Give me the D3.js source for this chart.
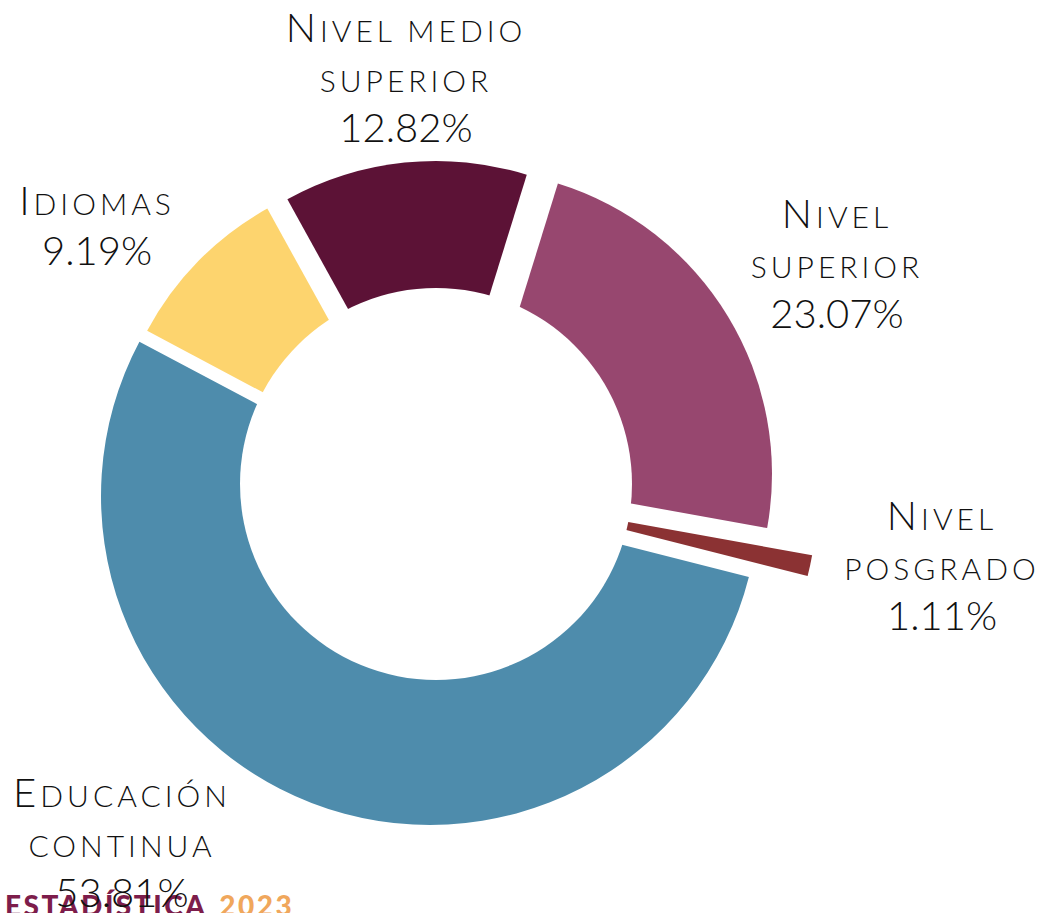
<!DOCTYPE html>
<html>
<head>
<meta charset="utf-8">
<script src="https://cdn.jsdelivr.net/npm/d3@7"></script>
<style>
  html, body { margin: 0; padding: 0; background: #fff; }
  svg { display: block; }
</style>
</head>
<body>
<svg width="1054" height="913"></svg>
<script>
// data, clockwise from the top
var categories = ["Nivel superior", "Nivel posgrado", "Educación continua", "Idiomas", "Nivel medio superior"];
var values = [23.07, 1.11, 53.81, 9.19, 12.82];
var labelLines = [["Nivel", "superior"], ["Nivel", "posgrado"], ["Educación", "continua"], ["Idiomas"], ["Nivel medio", "superior"]];
var colors = ["#97476f", "#8b3233", "#4e8cac", "#fdd46e", "#5c1236"];

var svg = d3.select("svg"),
    width = +svg.attr("width"),
    height = +svg.attr("height");

// hole centre / radius and how each slice is pulled out
var cx = 436, cy = 484, holeR = 196;
var sliceLayout = {
  "Nivel superior":       { dx: 32,  dy: -10, r: 304 },
  "Nivel posgrado":       { dx: 76,  dy: 17,  r: 305 },
  "Educación continua":   { dx: -6,  dy: 12,  r: 329 },
  "Idiomas":              { dx: -23, dy: -12, r: 301 },
  "Nivel medio superior": { dx: 0,   dy: -16, r: 307 }
};
var labelLayout = {
  "Nivel superior":       [837, 228],
  "Nivel posgrado":       [942, 530],
  "Educación continua":   [122, 807],
  "Idiomas":              [97, 215],
  "Nivel medio superior": [406, 42]
};

var color = d3.scaleOrdinal().domain(categories).range(colors);

var start = 17.2 * Math.PI / 180;
var pie = d3.pie()
    .sort(null)
    .startAngle(start)
    .endAngle(start + 2 * Math.PI)
    .value(function(d, i) { return values[i]; });

var arcs = pie(categories);

// footer (sits under the labels)
var foot = svg.append("text")
    .attr("x", 5)
    .attr("y", 916)
    .style("font-family", "Lato, 'DejaVu Sans', sans-serif")
    .style("font-weight", 900)
    .style("font-size", "28px")
    .style("letter-spacing", "2.5px");
foot.append("tspan").attr("fill", "#7d1d4b").text("ESTADÍSTICA");
foot.append("tspan").attr("fill", "#f0a75c").attr("dx", 12).text("2023");

var slices = svg.append("g");
arcs.forEach(function(d) {
  var name = d.data, lay = sliceLayout[name];
  var path = d3.arc().innerRadius(0).outerRadius(lay.r);
  slices.append("path")
      .attr("transform", "translate(" + (cx + lay.dx) + "," + (cy + lay.dy) + ")")
      .attr("d", path(d))
      .attr("fill", color(name));
});

// doughnut hole
svg.append("circle")
    .attr("cx", cx)
    .attr("cy", cy)
    .attr("r", holeR)
    .attr("fill", "#fff");

var bigSize = 40, smallSize = 30, lineH = 50;

// capitals big, lower case letters drawn as small caps
function smallCapsLine(sel, str) {
  var parts = [];
  str.split("").forEach(function(ch) {
    var big = ch !== ch.toLowerCase();
    if (parts.length && parts[parts.length - 1].big === big) parts[parts.length - 1].s += ch;
    else parts.push({ big: big, s: ch });
  });
  parts.forEach(function(p) {
    sel.append("tspan")
        .style("font-size", (p.big ? bigSize : smallSize) + "px")
        .text(p.s.toUpperCase());
  });
}

var labels = svg.append("g")
    .style("font-family", "Lato, 'DejaVu Sans', sans-serif")
    .style("font-weight", 300)
    .attr("fill", "#111");

arcs.forEach(function(d, i) {
  var name = d.data, pos = labelLayout[name];
  var lines = labelLines[i];
  lines.forEach(function(line, j) {
    var t = labels.append("text")
        .attr("x", pos[0])
        .attr("y", pos[1] + j * lineH)
        .attr("text-anchor", "middle")
        .style("letter-spacing", "4px");
    smallCapsLine(t, line);
  });
  labels.append("text")
      .attr("x", pos[0])
      .attr("y", pos[1] + lines.length * lineH)
      .attr("text-anchor", "middle")
      .style("font-size", bigSize + "px")
      .text(d3.format(".2f")(values[i]) + "%");
});
</script>
</body>
</html>
